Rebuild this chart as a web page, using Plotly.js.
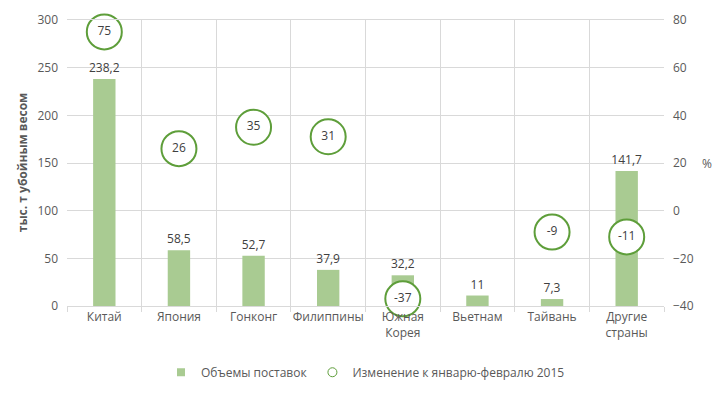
<!DOCTYPE html>
<html><head><meta charset="utf-8">
<script src="https://cdn.plot.ly/plotly-3.0.1.min.js"></script>
<style>html,body{margin:0;padding:0;background:#fff}</style>
</head><body><div id="chart" style="width:725px;height:396px"></div>
<script>
const categories = ["Китай","Япония","Гонконг","Филиппины","Южная<br>Корея","Вьетнам","Тайвань","Другие<br>страны"];
const volumes = [238.2, 58.5, 52.7, 37.9, 32.2, 11, 7.3, 141.7];
const changes = [75, 26, 35, 31, -37, null, -9, -11];
const leftTicks = [0,50,100,150,200,250,300];
const rightTicks = [-40,-20,0,20,40,60,80];

const fnt = "Open Sans, Liberation Sans, sans-serif";
const barColor = "#a9cb92", ringColor = "#5e9e3a";
const bars = {
  type: "bar", x: categories, y: volumes, name: "Объемы поставок", showlegend: false,
  marker: {color: barColor}, width: 0.3,
  text: volumes.map(v => String(v).replace(".", ",")),
  textposition: "outside", cliponaxis: false, constraintext: "none",
  textfont: {family: fnt, size: 12, color: "#404040"},
  hoverinfo: "skip"
};
const circles = {
  type: "scatter", mode: "markers+text", x: categories, y: changes, yaxis: "y2", showlegend: false,
  name: "Изменение к январю-февралю 2015",
  marker: {symbol: "circle", size: 35, color: "#ffffff", line: {color: ringColor, width: 2}},
  text: changes.map(v => v === null ? "" : String(v)),
  textposition: "middle center", cliponaxis: false,
  textfont: {family: fnt, size: 12, color: "#404040"},
  hoverinfo: "skip"
};
const legBar = {type: "scatter", mode: "markers", x: [null], y: [null], name: "Объемы поставок",
  marker: {symbol: "square", size: 8, color: barColor}, hoverinfo: "skip"};
const legCirc = {type: "scatter", mode: "markers", x: [null], y: [null], name: "Изменение к январю-февралю 2015",
  marker: {symbol: "circle", size: 9, color: "#ffffff", line: {color: ringColor, width: 1}}, hoverinfo: "skip"};
const layout = {
  width: 725, height: 396,
  margin: {l: 67, r: 61, t: 20, b: 90},
  paper_bgcolor: "#fff", plot_bgcolor: "#fff",
  font: {family: fnt, size: 12, color: "#595959"},
  showlegend: true,
  legend: {orientation: "h", x: 0.5, xanchor: "center", yref: "container", y: 0.06, yanchor: "middle",
           itemsizing: "trace", itemwidth: 30, tracegroupgap: 0,
           font: {family: fnt, size: 12, color: "#595959"}},
  xaxis: {type: "category", range: [-0.5, categories.length - 0.5], autorange: false,
          tickson: "boundaries", showgrid: true, gridcolor: "#d9d9d9",
          ticks: "outside", ticklen: 5, tickcolor: "#d9d9d9", tickwidth: 1,
          showline: true, linecolor: "#d9d9d9", mirror: true, tickangle: 0,
          automargin: false,
          tickfont: {family: fnt, size: 12, color: "#595959"}, fixedrange: true},
  yaxis: {range: [0, 300], tickvals: leftTicks, showgrid: true, gridcolor: "#d9d9d9",
          zeroline: false, ticks: "", showline: false, automargin: false, ticklabelstandoff: 8,
          tickfont: {family: fnt, size: 12, color: "#595959"}},
  yaxis2: {range: [-40, 80], tickvals: rightTicks, overlaying: "y", side: "right",
           showgrid: false, zeroline: false, ticks: "", showline: false, automargin: false, ticklabelstandoff: 8,
           tickfont: {family: fnt, size: 12, color: "#595959"}},
  annotations: [
    {text: "%", xref: "paper", yref: "paper", x: 1.06, y: 0.5, xanchor: "left", yanchor: "middle",
     showarrow: false, font: {family: fnt, size: 12, color: "#595959"}},
    {text: "<b>тыс. т убойным весом</b>", xref: "paper", yref: "paper", x: -0.075, y: 0.5, xanchor: "center", yanchor: "middle",
     textangle: -90, showarrow: false, font: {family: fnt, size: 12, color: "#595959"}}
  ]
};
Plotly.newPlot("chart", [bars, circles, legBar, legCirc], layout, {displayModeBar: false, staticPlot: true});
</script></body></html>
